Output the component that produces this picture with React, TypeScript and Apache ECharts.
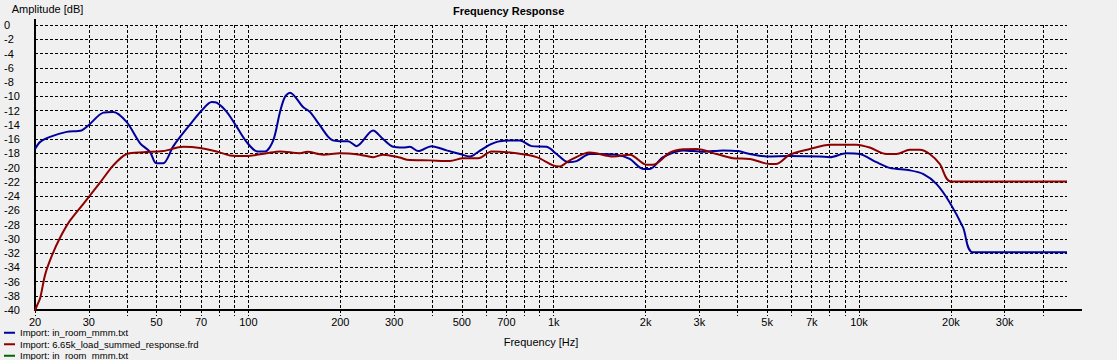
import React, { useEffect, useRef } from 'react';
import * as echarts from 'echarts';

// ---- data ----
const blueFreq = [20, 20.8, 22.4, 25.4, 28.4, 29.9, 33.5, 36.1, 39.9, 44.2, 47.6, 49.9, 52.6, 56.6, 60, 66, 70.3, 75.8, 78.7, 84.9, 91.6, 98.6, 107, 113.3, 120.6, 126.9, 131.7, 136.8, 151, 159, 171.5, 182.6, 189, 199, 212, 226, 256, 276, 298, 321, 338, 360, 398, 446, 493, 532, 566, 618, 666, 775, 846, 948, 1022, 1115, 1188, 1313, 1416, 1606, 1775, 1963, 2064, 2282, 2654, 3086, 3589, 4018, 4388, 4976, 5932, 7436, 8019, 9093, 10055, 11404, 12607, 14664, 16204, 17926, 19817, 21915, 23640, 48000];
const blueDb = [-17.4, -16.4, -15.7, -15.0, -14.8, -14.1, -12.3, -12.2, -13.6, -16.6, -17.8, -19.4, -19.4, -17.1, -15.6, -13.4, -12.0, -10.8, -10.9, -12.2, -14.3, -16.4, -17.75, -17.75, -16.2, -12.2, -10.1, -9.5, -11.5, -12.2, -14.1, -15.7, -16.2, -16.3, -16.3, -17.0, -14.8, -16.0, -17.1, -17.2, -17.1, -17.7, -17.0, -17.6, -18.1, -18.45, -17.8, -16.8, -16.3, -16.2, -17.0, -17.1, -18.1, -19.25, -19.1, -18.1, -18.1, -18.2, -18.8, -20.2, -20.2, -18.55, -17.6, -17.8, -17.6, -17.7, -18.1, -18.45, -18.4, -18.45, -18.55, -18.0, -18.1, -19.25, -20.05, -20.4, -20.9, -22.3, -24.9, -28.4, -31.9, -31.9];

const redFreq = [20, 20.3, 20.8, 21.6, 22.7, 24.2, 26.0, 28.8, 32.7, 36.1, 39.9, 45.3, 52.6, 61.2, 69.4, 78.7, 87, 98.6, 114.7, 126.9, 147.5, 155.8, 175.8, 199, 231.9, 256, 276, 313, 330, 393, 457, 505, 566, 626, 755, 879, 995, 1047, 1129, 1313, 1566, 1775, 2014, 2117, 2400, 2654, 2936, 3414, 3867, 4388, 5104, 5366, 5932, 6900, 8019, 9805, 10840, 12298, 13260, 14664, 15800, 17046, 18380, 19970, 48000];
const redDb = [-40.1, -39.4, -38.3, -35.0, -32.4, -29.8, -27.5, -25.1, -22.1, -19.7, -18.1, -17.85, -17.7, -17.1, -17.25, -17.75, -18.3, -18.4, -18.0, -17.75, -18.0, -17.8, -18.2, -18.0, -18.2, -18.55, -18.2, -18.6, -18.9, -19.0, -19.1, -18.7, -18.7, -17.75, -18.0, -18.55, -19.7, -19.85, -19.0, -17.9, -18.45, -18.2, -19.6, -19.6, -17.9, -17.45, -17.4, -18.1, -18.7, -18.8, -19.5, -19.5, -18.2, -17.4, -16.8, -16.8, -17.2, -18.1, -18.1, -17.5, -17.5, -18.1, -19.5, -21.95, -21.95];

const greenFreq: number[] = [];
const greenDb: number[] = [];

const seriesNames = [
  'Import: in_room_mmm.txt',
  'Import: 6.65k_load_summed_response.frd',
  'Import: in_room_mmm.txt ',
];
const seriesColors = ['#00009C', '#8C0000', '#006400'];

const xLabelFreqs = [20, 30, 50, 70, 100, 200, 300, 500, 700, 1000, 2000, 3000, 5000, 7000, 10000, 20000, 30000];
const gridFreqs = [
  20, 30, 40, 50, 60, 70, 80, 90,
  100, 200, 300, 400, 500, 600, 700, 800, 900,
  1000, 2000, 3000, 4000, 5000, 6000, 7000, 8000, 9000,
  10000, 20000, 30000, 40000,
];
const fMin = 20;
const fMax = 48000;
const yMin = -40;
const yMax = 0;
const yStep = 2;

const FONT = '"Liberation Sans", Arial, sans-serif';

function fmtFreq(v: number): string {
  const f = Math.round(Math.pow(10, v));
  if (f >= 1000) return String(Math.round(f / 100) / 10) + 'k';
  return String(f);
}

export default function App() {
  const ref = useRef<HTMLDivElement>(null);
  useEffect(() => {
    if (!ref.current) return;
    const chart = echarts.init(ref.current, undefined, { renderer: 'svg' });
    const toPts = (fs: number[], ds: number[]) => fs.map((f, i) => [Math.log10(f), ds[i]]);
    const dash = [3, 2];
    const lineSeries = (i: number, fs: number[], ds: number[]) => ({
      name: seriesNames[i],
      type: 'line',
      data: toPts(fs, ds),
      symbol: 'none',
      showSymbol: false,
      smooth: 0.3,
      lineStyle: { color: seriesColors[i], width: 2 },
      itemStyle: { color: seriesColors[i] },
    });
    const option: any = {
      animation: false,
      backgroundColor: '#F0F0F0',
      textStyle: { fontFamily: FONT },
      title: {
        text: 'Frequency Response',
        left: 453,
        top: 5,
        padding: 0,
        textStyle: { fontSize: 11, fontWeight: 'bold', color: '#000', fontFamily: FONT },
      },
      legend: {
        orient: 'vertical',
        left: 4,
        top: 327.5,
        height: 40,
        padding: 0,
        itemWidth: 11,
        itemHeight: 2,
        itemGap: 1,
        icon: 'rect',
        selectedMode: false,
        data: seriesNames,
        textStyle: { fontSize: 9.5, lineHeight: 10.5, color: '#000', fontFamily: FONT },
      },
      grid: { left: 35, top: 25, right: 50, bottom: 50, containLabel: false },
      xAxis: {
        type: 'value',
        min: Math.log10(fMin),
        max: Math.log10(fMax),
        name: 'Frequency [Hz]',
        nameLocation: 'middle',
        nameGap: 26,
        nameTextStyle: { fontSize: 11, color: '#000', fontFamily: FONT, padding: [0, 20, 0, 0] },
        axisLine: { show: true, onZero: false, lineStyle: { color: '#000', width: 2 } },
        axisTick: {
          show: true,
          customValues: gridFreqs.map((f) => Math.log10(f)),
          length: 6,
          lineStyle: { color: '#000', type: dash, width: 1 },
        },
        axisLabel: {
          customValues: xLabelFreqs.map((f) => Math.log10(f)),
          formatter: (v: number) => fmtFreq(v),
          fontSize: 11,
          lineHeight: 10,
          color: '#000',
          margin: 7,
          fontFamily: FONT,
        },
        splitLine: { show: true, lineStyle: { color: '#000', type: dash, width: 1 } },
      },
      yAxis: {
        type: 'value',
        min: yMin,
        max: yMax,
        interval: yStep,
        name: 'Amplitude [dB]',
        nameLocation: 'end',
        nameGap: 11,
        nameTextStyle: { fontSize: 11, color: '#000', fontFamily: FONT, padding: [0, 0, 0, 25] },
        axisLine: { show: true, onZero: false, lineStyle: { color: '#000', width: 2 } },
        axisTick: { show: false },
        axisLabel: { align: 'left', margin: 31, fontSize: 11, color: '#000', fontFamily: FONT },
        splitLine: { show: true, lineStyle: { color: '#000', type: dash, width: 1 } },
      },
      graphic: [
        { type: 'line', shape: { x1: 35, y1: 19, x2: 35, y2: 25 }, style: { stroke: '#000', lineWidth: 2 }, silent: true },
        { type: 'line', shape: { x1: 1066, y1: 310, x2: 1082, y2: 310 }, style: { stroke: '#000', lineWidth: 2 }, silent: true },
      ],
      series: [
        lineSeries(0, blueFreq, blueDb),
        lineSeries(1, redFreq, redDb),
        lineSeries(2, greenFreq, greenDb),
      ],
    };
    chart.setOption(option);
    return () => chart.dispose();
  }, []);
  return (
    <div
      ref={ref}
      style={{ position: 'fixed', left: 0, top: 0, width: 1117, height: 360 }}
    />
  );
}
